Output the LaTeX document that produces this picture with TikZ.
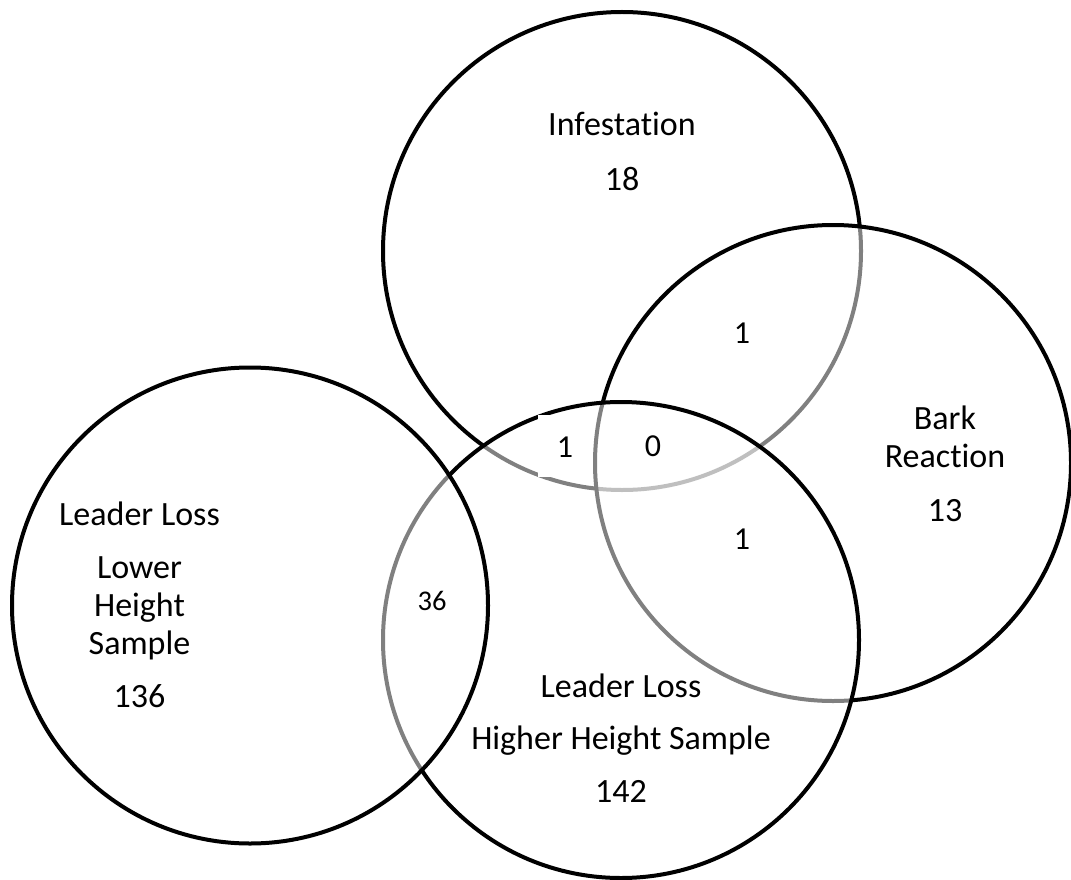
\documentclass[tikz,border=0pt]{standalone}
\usepackage{fontspec}
\setmainfont{Carlito}[Ligatures={NoCommon}]
\begin{document}
\begin{tikzpicture}[x=1pt,y=-1pt,
  venn/.style={circle,draw=black,line width=4pt,fill=white,fill opacity=0.5,inner sep=0pt,minimum size=#1},
  lab/.style={anchor=base,inner sep=0pt,font=\fontsize{34}{40}\selectfont},
  small/.style={anchor=base,inner sep=0pt,font=\fontsize{32}{38}\selectfont},
  tiny/.style={anchor=base,inner sep=0pt,font=\fontsize{28.5}{34}\selectfont}]
\useasboundingbox (0,0) rectangle (1071,880);
% circles, in drawing order
\node[venn=478pt] (inf)  at (622,251) {};
\node[venn=476pt] (bark) at (833,463) {};
\node[venn=476pt] (high) at (621,640) {};
\node[venn=476pt] (low)  at (250,605.5) {};
% white box behind the left "1"
\node[fill=white,inner sep=0pt,minimum width=54pt,minimum height=62pt] (box1) at (565,446) {};
% labels
\node[lab] (tinf) at (622,136) {Infestation};
\node[lab] (ninf) at (622,190) {18};
\node[small] (nib) at (742,343) {1};
\node[lab] (tbark1) at (945,429) {Bark};
\node[lab] (tbark2) at (945,467) {Reaction};
\node[lab] (nbark) at (945,521) {13};
\node[small] (nih) at (565,457) {1};
\node[small] (nibh) at (653,456) {0};
\node[small] (nbh) at (742,549) {1};
\node[lab] (tlow1) at (139.5,525) {Leader Loss};
\node[lab] (tlow2) at (139.5,578) {Lower};
\node[lab] (tlow3) at (139.5,616) {Height};
\node[lab] (tlow4) at (139.5,654) {Sample};
\node[lab] (nlow) at (139.5,707) {136};
\node[tiny] (nlh) at (432,610) {36};
\node[lab] (thigh1) at (621,697) {Leader Loss};
\node[lab] (thigh2) at (621,749) {Higher Height Sample};
\node[lab] (nhigh) at (621,802) {142};
\end{tikzpicture}
\end{document}
